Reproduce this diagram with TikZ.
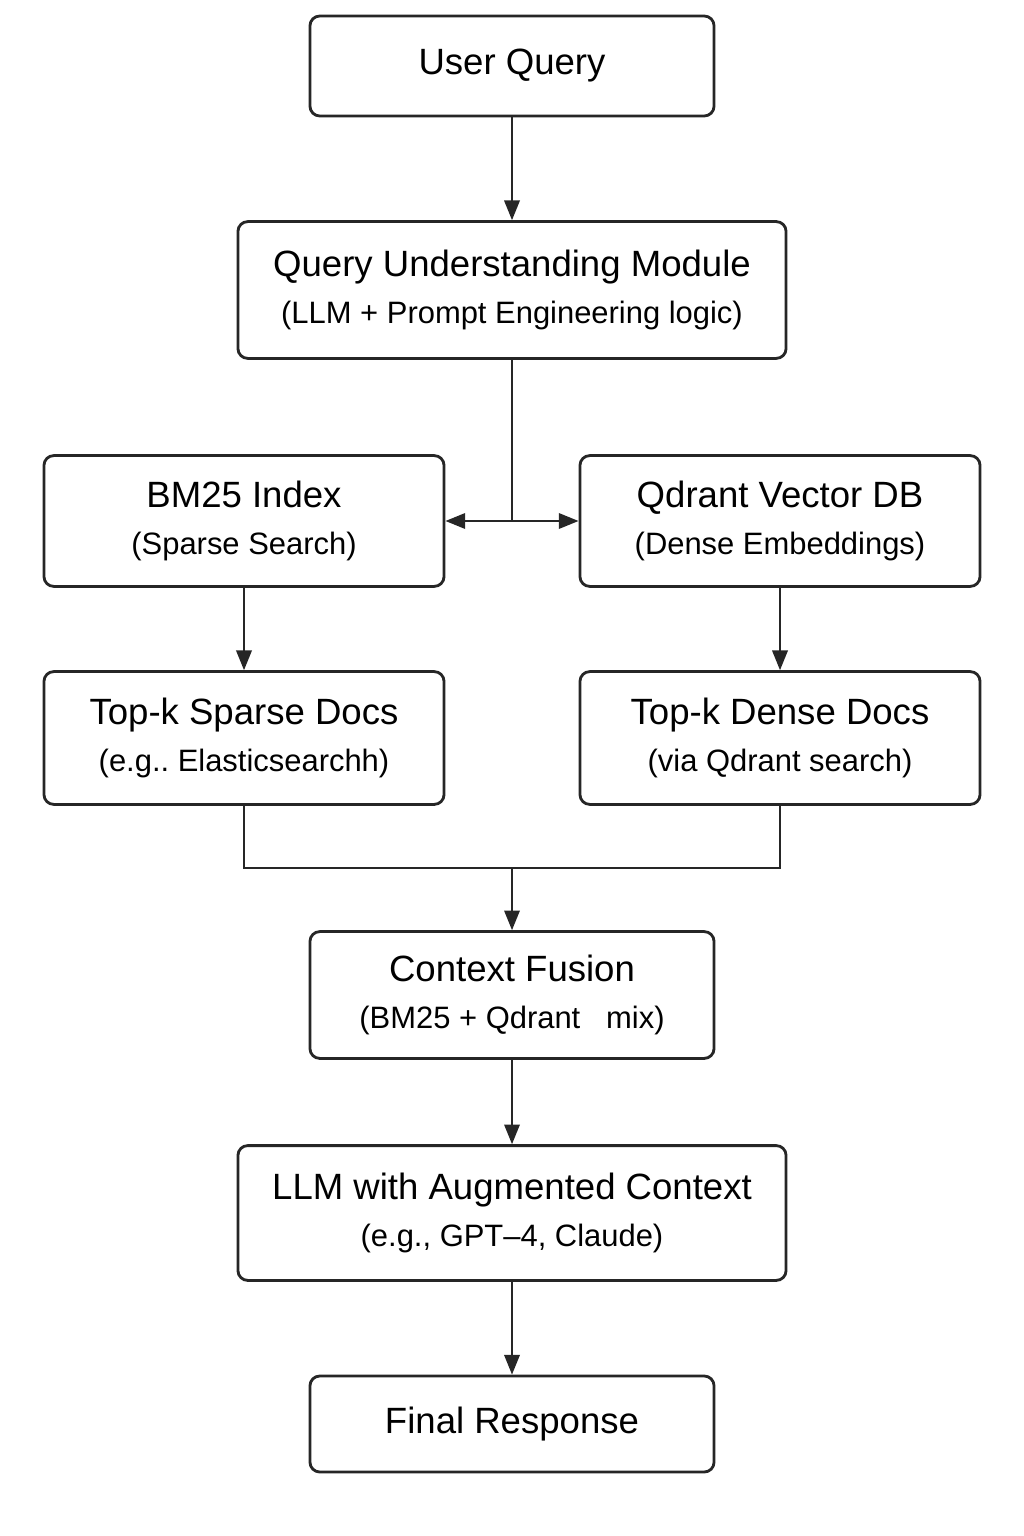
\documentclass[tikz,border=0pt]{standalone}
\usepackage{fontspec}
\setmainfont{Liberation Sans}
\usetikzlibrary{arrows.meta, calc}
\frenchspacing
\newcommand{\detail}[1]{{\fontsize{22}{33}\selectfont #1}}

\begin{document}
\begin{tikzpicture}[x=0.025cm, y=-0.025cm,
    block/.style={draw=black!85, line width=2pt, rounded corners=7pt, align=center, fill=white, font=\fontsize{26}{33}\selectfont},
    link/.style={line width=1.4pt, draw=black!85},
    flow/.style={link, -{Triangle[length=14pt,width=11pt]}}]
    \useasboundingbox (0,0) rectangle (1024,1536);
    % main column
    \node[block, minimum width=10.1cm, minimum height=2.5cm] (query) at (512,66) {User Query};
    \node[block, minimum width=13.7cm, minimum height=3.42cm] (understand) at (512,290) {Query Understanding Module\\ \detail{(LLM + Prompt Engineering logic)}};
    % two retrievers
    \node[block, minimum width=10cm, minimum height=3.27cm] (bm25) at (244,521) {BM25 Index\\ \detail{(Sparse Search)}};
    \node[block, minimum width=10cm, minimum height=3.27cm] (qdrant) at (780,521) {Qdrant Vector DB\\ \detail{(Dense Embeddings)}};
    \node[block, minimum width=10cm, minimum height=3.32cm] (sparse) at (244,738) {Top-k Sparse Docs\\ \detail{(e.g.. Elasticsearchh)}};
    \node[block, minimum width=10cm, minimum height=3.32cm] (dense) at (780,738) {Top-k Dense Docs\\ \detail{(via Qdrant search)}};
    % fusion and answer
    \node[block, minimum width=10.1cm, minimum height=3.17cm] (fusion) at (512,995) {Context Fusion\\ \detail{(BM25 + Qdrant \ \ mix)}};
    \node[block, minimum width=13.7cm, minimum height=3.37cm] (llm) at (512,1213) {LLM with Augmented Context\\ \detail{(e.g., GPT--4, Claude)}};
    \node[block, minimum width=10.1cm, minimum height=2.4cm] (final) at (512,1424) {Final Response};

    \coordinate (split) at (512,521);
    \coordinate (merge) at (512,868);

    \draw[flow] (query) -- (understand);
    \draw[link] (understand) -- (split);
    \draw[flow] (split) -- (bm25.east);
    \draw[flow] (split) -- (qdrant.west);
    \draw[flow] (bm25) -- (sparse);
    \draw[flow] (qdrant) -- (dense);
    \draw[link] (sparse.south) |- (merge) -| (dense.south);
    \draw[flow] (merge) -- (fusion);
    \draw[flow] (fusion) -- (llm);
    \draw[flow] (llm) -- (final);
\end{tikzpicture}
\end{document}
